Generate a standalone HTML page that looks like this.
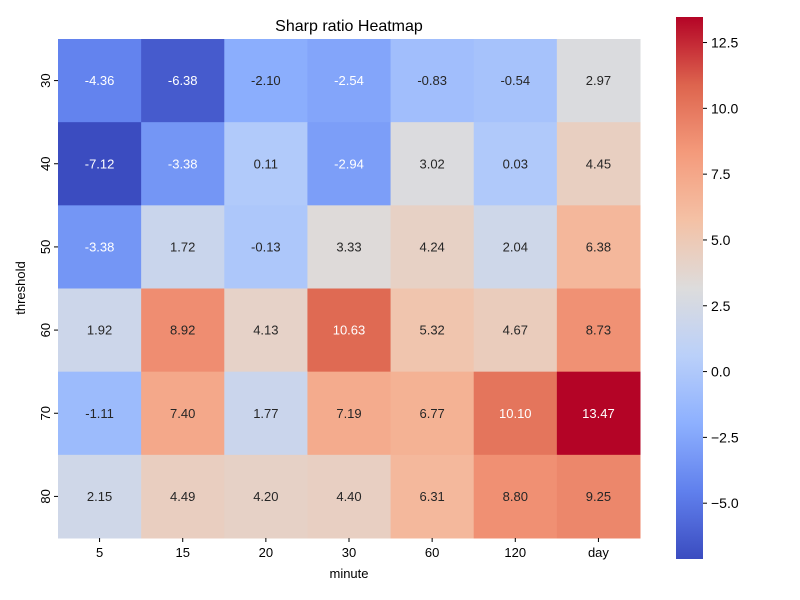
<!DOCTYPE html>
<html><head><meta charset="utf-8"><style>
body{margin:0;background:#fff;}
svg{display:block;font-family:"Liberation Sans","DejaVu Sans",sans-serif;}
</style></head><body>
<svg id="chart" width="800" height="600">
<defs><linearGradient id="cbgrad" x1="0" y1="1" x2="0" y2="0"></linearGradient></defs>
<text x="349" y="31" font-size="16" text-anchor="middle">Sharp ratio Heatmap</text>
<g id="cells"></g>
<g id="xticks"></g>
<g id="yticks"></g>
<rect x="676" y="17" width="27" height="542" fill="url(#cbgrad)"/>
<g id="cbticks"></g>
<text x="349" y="578" font-size="13" text-anchor="middle">minute</text>
<text x="0" y="0" font-size="13" text-anchor="middle" transform="translate(25,288) rotate(-90)">threshold</text>
</svg>
<script>
const columns = ["5","15","20","30","60","120","day"];
const rows = ["30","40","50","60","70","80"];
const row30 = [-4.36,-6.38,-2.10,-2.54,-0.83,-0.54,2.97];
const row40 = [-7.12,-3.38,0.11,-2.94,3.02,0.03,4.45];
const row50 = [-3.38,1.72,-0.13,3.33,4.24,2.04,6.38];
const row60 = [1.92,8.92,4.13,10.63,5.32,4.67,8.73];
const row70 = [-1.11,7.40,1.77,7.19,6.77,10.10,13.47];
const row80 = [2.15,4.49,4.20,4.40,6.31,8.80,9.25];
const values = [row30,row40,row50,row60,row70,row80];
const cbTicks = [-5.0,-2.5,0.0,2.5,5.0,7.5,10.0,12.5];

const NS="http://www.w3.org/2000/svg";
const X0=58,X1=640,Y0=39,Y1=538,CB0=559,CB1=17;
const all=values.flat();
const vmin=Math.min(...all), vmax=Math.max(...all);
const cw=(X1-X0)/columns.length, ch=(Y1-Y0)/rows.length;
const xPos=i=>X0+i*cw, yPos=j=>Y0+j*ch;
const cbY=v=>CB0-(v-vmin)/(vmax-vmin)*(CB0-CB1);
const stops=[[0,59,76,192],[0.125,96,128,237],[0.25,141,176,254],[0.375,186,208,249],[0.5,221,220,220],[0.625,244,193,165],[0.75,244,154,123],[0.875,221,100,78],[1,180,4,38]];
function cmap(t){t=Math.max(0,Math.min(1,t));for(let k=1;k<stops.length;k++){if(t<=stops[k][0]){const a=stops[k-1],b=stops[k],f=(t-a[0])/(b[0]-a[0]);return [1,2,3].map(i=>Math.round(a[i]+f*(b[i]-a[i])));}}return stops[stops.length-1].slice(1);}
function mk(tag,at,parent){const e=document.createElementNS(NS,tag);for(const k in at)e.setAttribute(k,at[k]);parent.appendChild(e);return e;}
const grad=document.getElementById('cbgrad');
for(let k=0;k<=32;k++){const c=cmap(k/32);mk('stop',{offset:(k/32),'stop-color':`rgb(${c})`},grad);}
const cells=document.getElementById('cells');
values.forEach((r,j)=>r.forEach((v,i)=>{
  const t=(v-vmin)/(vmax-vmin),c=cmap(t);
  const rc=mk('rect',{x:xPos(i),y:yPos(j),width:cw+0.5,height:ch+0.5,fill:`rgb(${c})`},cells);
  
  
  const white=(t<0.23||t>0.82);
  const tx=mk('text',{x:xPos(i)+cw/2,y:yPos(j)+ch/2+4.5,'font-size':13,'text-anchor':'middle',fill:white?'#fff':'#262626'},cells);
  tx.textContent=v.toFixed(2);
  
  
}));
const xt=document.getElementById('xticks');
columns.forEach((c,i)=>{const x=xPos(i)+cw/2;
  mk('line',{x1:x,x2:x,y1:Y1,y2:Y1+4,stroke:'#000'},xt);
  const t=mk('text',{x:x,y:Y1+19,'font-size':13,'text-anchor':'middle'},xt);t.textContent=c;
  
  });
const yt=document.getElementById('yticks');
rows.forEach((r,j)=>{const y=yPos(j)+ch/2;
  mk('line',{x1:X0-4,x2:X0,y1:y,y2:y,stroke:'#000'},yt);
  const t=mk('text',{x:0,y:0,'font-size':13,'text-anchor':'middle',transform:`translate(${X0-8},${y}) rotate(-90)`},yt);t.textContent=r;
  
  });
const cb=document.getElementById('cbticks');
cbTicks.forEach(v=>{const y=cbY(v);
  mk('line',{x1:703,x2:707,y1:y,y2:y,stroke:'#000'},cb);
  const t=mk('text',{x:711,y:y+5,'font-size':14},cb);t.textContent=(v<0?'\u2212':'')+Math.abs(v).toFixed(1);
  
  });
</script>
</body></html>
